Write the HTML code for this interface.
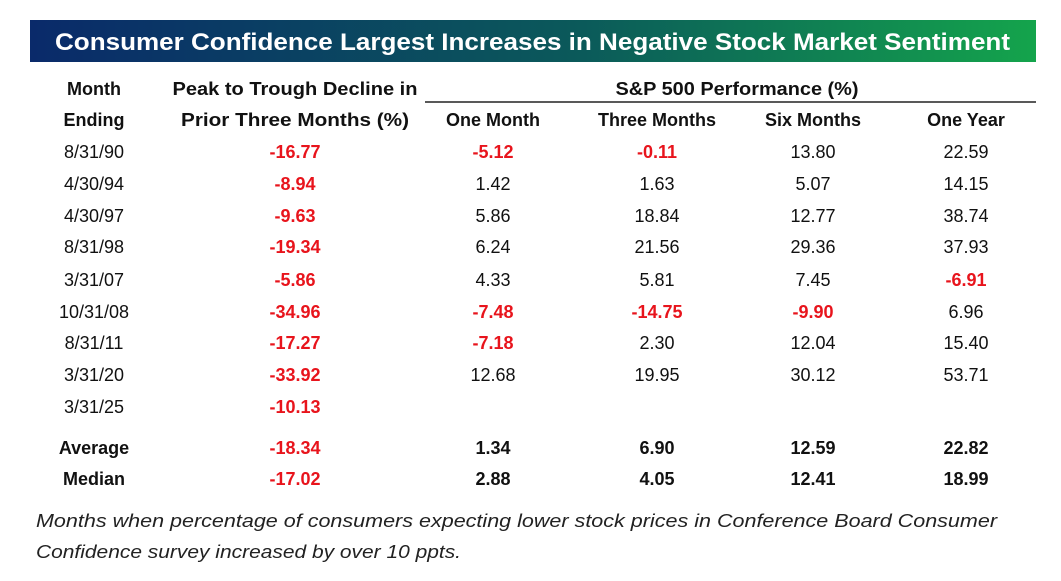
<!DOCTYPE html>
<html><head><meta charset="utf-8"><style>
html,body{margin:0;padding:0;background:#fff;width:1061px;height:581px;overflow:hidden}
svg{display:block;font-family:"Liberation Sans",sans-serif}
</style></head><body>
<svg id="t" width="1061" height="581">
<defs><linearGradient id="g" x1="0" x2="1" y1="0" y2="0">
<stop offset="0" stop-color="#0a2a6a"/><stop offset="0.55" stop-color="#0b5a5a"/><stop offset="1" stop-color="#14a44c"/></linearGradient></defs>
<rect x="30" y="20" width="1006" height="42" fill="url(#g)"/>
<text x="55" y="50" fill="#fff" font-size="24" font-weight="bold" textLength="955" lengthAdjust="spacingAndGlyphs">Consumer Confidence Largest Increases in Negative Stock Market Sentiment</text>
<g font-size="18" font-weight="bold" fill="#111" text-anchor="middle">
<text x="94" y="95">Month</text>
<text x="94" y="126">Ending</text>
<text x="295" y="95" textLength="245" lengthAdjust="spacingAndGlyphs">Peak to Trough Decline in</text>
<text x="295" y="126" textLength="228" lengthAdjust="spacingAndGlyphs">Prior Three Months (%)</text>
<text x="737" y="95" textLength="243" lengthAdjust="spacingAndGlyphs">S&amp;P 500 Performance (%)</text>
<text x="493" y="126">One Month</text>
<text x="657" y="126">Three Months</text>
<text x="813" y="126">Six Months</text>
<text x="966" y="126">One Year</text>
</g>
<line x1="425" x2="1036" y1="102" y2="102" stroke="#222" stroke-width="1.5"/>
<g id="rows"></g>
<g font-size="18" font-style="italic" fill="#222">
<text x="36" y="527" textLength="961" lengthAdjust="spacingAndGlyphs">Months when percentage of consumers expecting lower stock prices in Conference Board Consumer</text>
<text x="36" y="558" textLength="425" lengthAdjust="spacingAndGlyphs">Confidence survey increased by over 10 ppts.</text>
</g>
</svg>
<script>
const months=["8/31/90","4/30/94","4/30/97","8/31/98","3/31/07","10/31/08","8/31/11","3/31/20","3/31/25","Average","Median"];
const peak=["-16.77","-8.94","-9.63","-19.34","-5.86","-34.96","-17.27","-33.92","-10.13","-18.34","-17.02"];
const oneMonth=["-5.12","1.42","5.86","6.24","4.33","-7.48","-7.18","12.68","","1.34","2.88"];
const threeMonths=["-0.11","1.63","18.84","21.56","5.81","-14.75","2.30","19.95","","6.90","4.05"];
const sixMonths=["13.80","5.07","12.77","29.36","7.45","-9.90","12.04","30.12","","12.59","12.41"];
const oneYear=["22.59","14.15","38.74","37.93","-6.91","6.96","15.40","53.71","","22.82","18.99"];
const rowY=[158,190,222,253,286,318,349,381,413,454,485];
const colX=[94,295,493,657,813,966];
const cols=[months,peak,oneMonth,threeMonths,sixMonths,oneYear];
const names=["month","peak-decline","one-month","three-months","six-months","one-year"];
const g=document.getElementById('rows');
const NS="http://www.w3.org/2000/svg";
months.forEach((m,i)=>{
  cols.forEach((c,j)=>{
    const v=c[i]; if(!v) return;
    const t=document.createElementNS(NS,'text');
    t.setAttribute('x',colX[j]);t.setAttribute('y',rowY[i]);
    t.setAttribute('text-anchor','middle');t.setAttribute('font-size','18');
    const neg=j>0&&v.startsWith('-');
    const summary=i>=9;
    t.setAttribute('fill',neg?'#e8141c':'#111');
    if(neg||summary) t.setAttribute('font-weight','bold');
    t.textContent=v;
    
    
    g.appendChild(t);
  });
});
</script>
</body></html>
